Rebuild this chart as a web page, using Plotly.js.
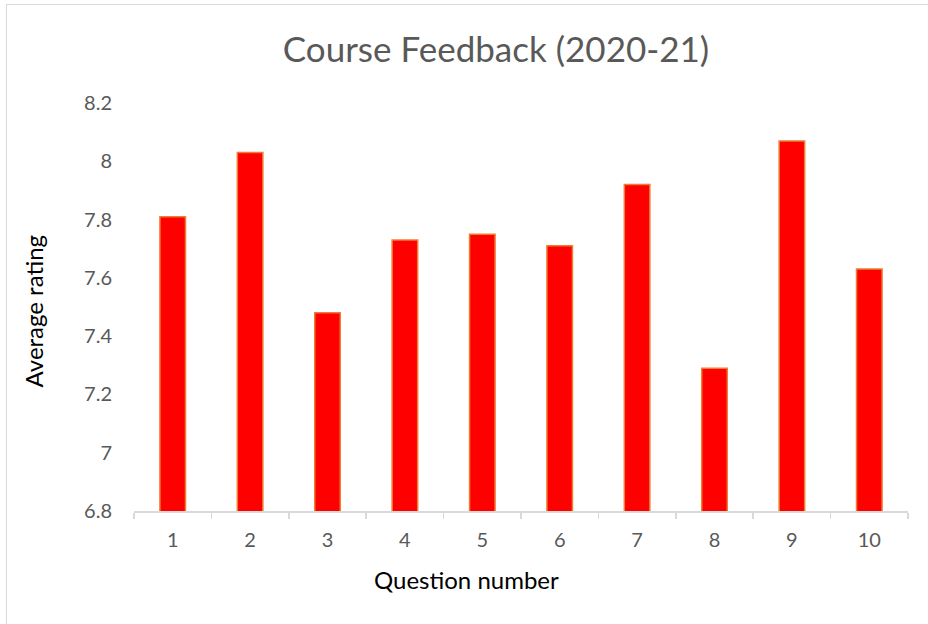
<!DOCTYPE html>
<html>
<head>
<meta charset="utf-8">
<script src="https://cdn.plot.ly/plotly-3.0.1.min.js"></script>
<style>
  html, body { margin: 0; padding: 0; background: #fff; }
  #wrap { position: relative; width: 928px; height: 624px; overflow: hidden; }
  #chart { width: 928px; height: 624px; }
  #frame { position: absolute; left: 6px; top: 4px; width: 940px; height: 640px;
           border: 1px solid #d9d9d9; pointer-events: none; }
</style>
</head>
<body>
<div id="wrap">
  <div id="chart"></div>
  <div id="frame"></div>
</div>
<script>
const questions = ["1", "2", "3", "4", "5", "6", "7", "8", "9", "10"];
const ratings = [7.81, 8.03, 7.48, 7.73, 7.75, 7.71, 7.92, 7.29, 8.07, 7.63];
const yTicks = [6.8, 7, 7.2, 7.4, 7.6, 7.8, 8, 8.2];
const yTickText = ["6.8", "7", "7.2", "7.4", "7.6", "7.8", "8", "8.2"];

const FONT = "Lato, 'Open Sans', sans-serif";

const trace = {
  type: "bar",
  x: questions,
  y: ratings,
  marker: { color: "#ff0000", line: { color: "#ed7d31", width: 1.5 } },
  hoverinfo: "x+y"
};

const layout = {
  width: 928,
  height: 624,
  margin: { l: 134, r: 20, t: 103, b: 113 },
  paper_bgcolor: "#ffffff",
  plot_bgcolor: "#ffffff",
  showlegend: false,
  bargap: 0.67,
  title: {
    text: "Course Feedback (2020-21)",
    font: { family: FONT, size: 35, color: "#595959" },
    x: 0.5345, xref: "container", xanchor: "center",
    y: 0.92, yref: "container", yanchor: "middle"
  },
  xaxis: {
    type: "category",
    showline: true, linecolor: "#d9d9d9", linewidth: 1.5,
    ticks: "outside", tickson: "boundaries", ticklen: 6, tickcolor: "#d9d9d9", tickwidth: 1.5,
    showgrid: false, zeroline: false,
    tickfont: { family: FONT, size: 20, color: "#595959" },
    ticklabelstandoff: 10,
    fixedrange: true
  },
  yaxis: {
    range: [6.8, 8.2],
    tickvals: yTicks, ticktext: yTickText,
    showline: false, ticks: "", showgrid: false, zeroline: false,
    tickfont: { family: FONT, size: 20, color: "#595959" },
    ticklabelstandoff: 21,
    fixedrange: true
  },
  annotations: [
    { text: "Average rating", xref: "paper", yref: "paper", x: -0.13, y: 0.49,
      xanchor: "center", yanchor: "middle", textangle: -90, showarrow: false,
      font: { family: FONT, size: 24, color: "#000000" } },
    { text: "Question number", xref: "paper", yref: "paper", x: 0.429, y: -0.168,
      xanchor: "center", yanchor: "middle", showarrow: false,
      font: { family: FONT, size: 24, color: "#000000" } }
  ]
};

Plotly.newPlot("chart", [trace], layout, { displayModeBar: false, staticPlot: true });
</script>
</body>
</html>
